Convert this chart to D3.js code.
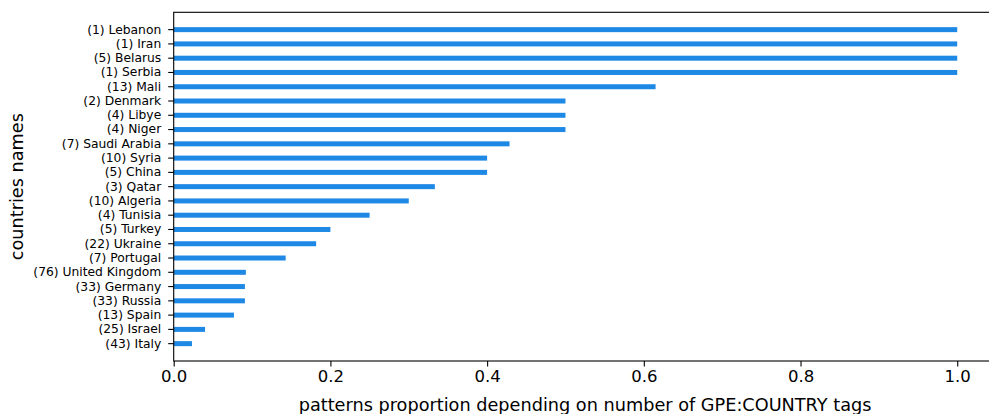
<!DOCTYPE html>
<html>
<head>
<meta charset="utf-8">
<script src="https://cdn.jsdelivr.net/npm/d3@7"></script>
<style>
  body { margin: 0; background: white; }
  text { font-family: "DejaVu Sans", sans-serif; fill: #000; }
</style>
</head>
<body>
<div id="main"></div>
<script>
var countries = ["Lebanon", "Iran", "Belarus", "Serbia", "Mali", "Denmark", "Libye", "Niger",
  "Saudi Arabia", "Syria", "China", "Qatar", "Algeria", "Tunisia", "Turkey", "Ukraine",
  "Portugal", "United Kingdom", "Germany", "Russia", "Spain", "Israel", "Italy"];
var counts = [1, 1, 5, 1, 13, 2, 4, 4, 7, 10, 5, 3, 10, 4, 5, 22, 7, 76, 33, 33, 13, 25, 43];
var proportions = [1.0, 1.0, 1.0, 1.0, 0.615, 0.5, 0.5, 0.5, 0.4286, 0.4, 0.4, 0.3333, 0.3,
  0.25, 0.2, 0.1818, 0.1429, 0.0921, 0.0909, 0.0909, 0.0769, 0.04, 0.0233];
var xTicks = [0, 0.2, 0.4, 0.6, 0.8, 1.0];

var width = 989, height = 414;
var plotLeft = 173.7, plotRight = 996.4, plotTop = 12.3, plotBottom = 361;

var labels = countries.map(function(c, i){ return "(" + counts[i] + ") " + c; });

var svg = d3.select("#main").append("svg")
  .attr("width", width)
  .attr("height", height);

var x = d3.scaleLinear().domain([0, 1.05]).range([plotLeft, plotRight]);
var y = d3.scaleBand().domain(labels).range([plotTop, plotBottom])
  .paddingInner(0.65).paddingOuter(1.04);

// bars
svg.selectAll("rect.bar")
  .data(proportions)
  .enter().append("rect")
  .attr("class", "bar")
  .attr("x", x(0))
  .attr("y", function(d, i){ return y(labels[i]); })
  .attr("width", function(d){ return x(d) - x(0); })
  .attr("height", y.bandwidth())
  .attr("fill", "#1e88e5");

// x axis
var xAxis = svg.append("g")
  .attr("transform", "translate(0," + plotBottom + ")")
  .call(d3.axisBottom(x).tickValues(xTicks).tickFormat(d3.format(".1f")).tickSize(5.5).tickPadding(4));
xAxis.select(".domain").remove();
xAxis.selectAll("line").attr("stroke", "#000").attr("stroke-width", 1.1);
xAxis.selectAll("text").style("font-size", "16.5px").attr("fill", "#000");

// y axis
var yAxis = svg.append("g")
  .attr("transform", "translate(" + plotLeft + ",0)")
  .call(d3.axisLeft(y).tickSize(5.5).tickPadding(7));
yAxis.select(".domain").remove();
yAxis.selectAll("line").attr("stroke", "#000").attr("stroke-width", 1.1);
yAxis.selectAll("text").style("font-size", "12.3px").attr("fill", "#000");

// spines
svg.append("rect")
  .attr("x", plotLeft).attr("y", plotTop)
  .attr("width", plotRight - plotLeft).attr("height", plotBottom - plotTop)
  .attr("fill", "none").attr("stroke", "#000").attr("stroke-width", 1.1);

// axis labels
svg.append("text")
  .attr("x", (plotLeft + plotRight) / 2)
  .attr("y", 410.5)
  .attr("text-anchor", "middle")
  .style("font-size", "17.7px")
  .text("patterns proportion depending on number of GPE:COUNTRY tags");

svg.append("text")
  .attr("transform", "translate(22.7," + (plotTop + plotBottom) / 2 + ") rotate(-90)")
  .attr("text-anchor", "middle")
  .style("font-size", "17.7px")
  .text("countries names");
</script>
</body>
</html>
